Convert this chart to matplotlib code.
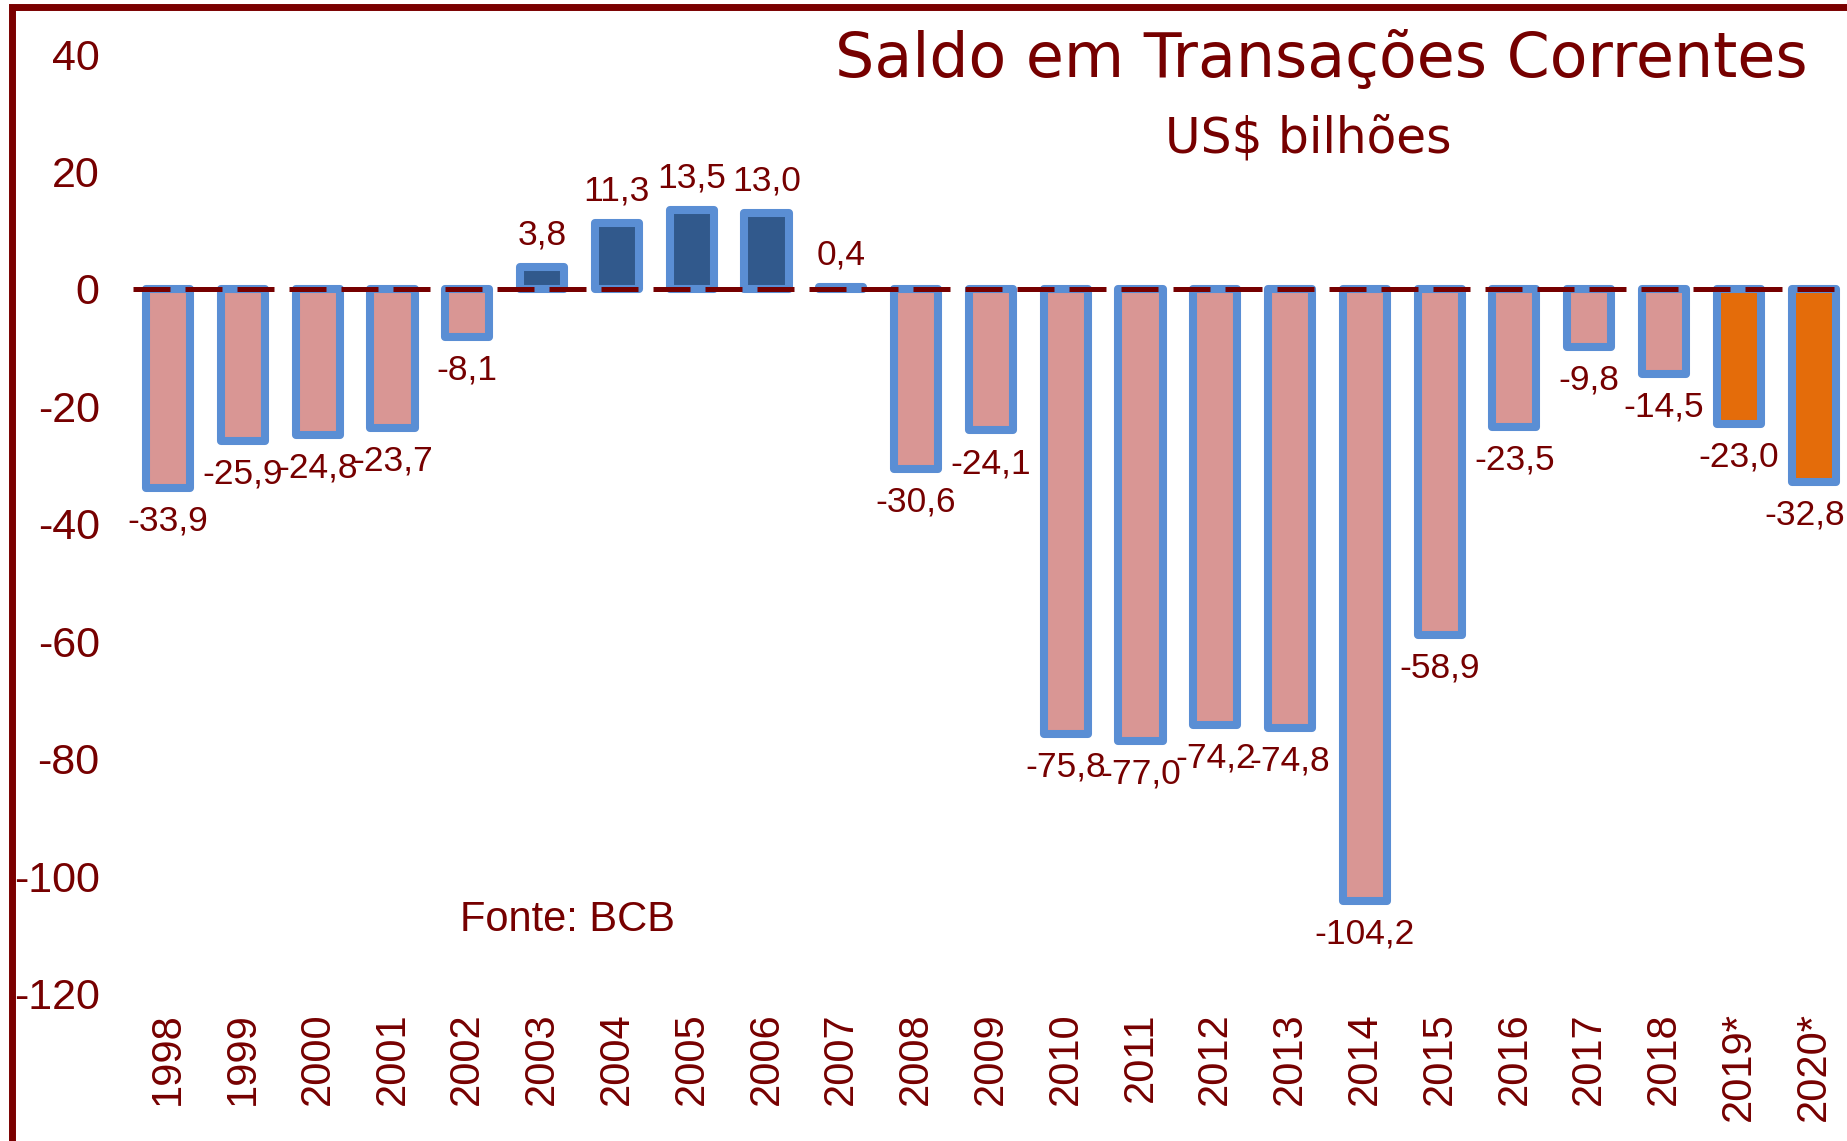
import matplotlib.pyplot as plt
from matplotlib.patches import Rectangle

# the data
years = ['1998', '1999', '2000', '2001', '2002', '2003', '2004', '2005',
         '2006', '2007', '2008', '2009', '2010', '2011', '2012', '2013',
         '2014', '2015', '2016', '2017', '2018', '2019*', '2020*']
saldo = [-33.9, -25.9, -24.8, -23.7, -8.1, 3.8, 11.3, 13.5,
         13.0, 0.4, -30.6, -24.1, -75.8, -77.0, -74.2, -74.8,
         -104.2, -58.9, -23.5, -9.8, -14.5, -23.0, -32.8]
y_ticks = [40, 20, 0, -20, -40, -60, -80, -100, -120]

title = 'Saldo em Transações Correntes'
subtitle = 'US$ bilhões'
source = 'Fonte: BCB'

DARK_RED = '#760000'
PINK = '#d99694'
NAVY = '#31598c'
ORANGE = '#e46c0a'
EDGE = '#5a8ed4'

W, H = 1847, 1141
DPI = 100


def bar_color(label, value):
    if label.endswith('*'):
        return ORANGE  # projections
    if value > 0:
        return NAVY
    return PINK


def fmt(v):
    return f'{v:.1f}'.replace('.', ',')


def main():
    plt.rcParams['font.family'] = ['Liberation Sans', 'DejaVu Sans']
    fig = plt.figure(figsize=(W / DPI, H / DPI), dpi=DPI)
    fig.patch.set_facecolor('white')

    # axes in pixel terms: left 133, top 20, bottom 1000
    ax = fig.add_axes([133 / W, 1 - 1000 / H, 1 - 133 / W, (1000 - 20) / H])
    ax.set_facecolor('none')
    px_per_unit = 117.4 / 20
    ax.set_ylim(-(1000 - 289) / px_per_unit, (289 - 20) / px_per_unit)
    ax.set_xlim(-0.47, (W - 168) / 74.8)

    x = range(len(years))
    colors = [bar_color(lbl, v) for lbl, v in zip(years, saldo)]
    ax.bar(x, saldo, width=0.59, color=colors, edgecolor=EDGE,
           linewidth=5.8, joinstyle='round', zorder=2)

    # dashed zero line on top of the bars
    ax.axhline(0, color=DARK_RED, linewidth=3.6, dashes=(7.4, 3.0),
               zorder=3)

    labels = []
    for i, v in enumerate(saldo):
        off = 23 if v >= 0 else -24
        labels.append(ax.annotate(fmt(v), (i, v), xytext=(0, off),
                                  textcoords='offset points', ha='center',
                                  va='center', fontsize=25.5,
                                  color=DARK_RED, zorder=4))

    for s in ax.spines.values():
        s.set_visible(False)
    ax.set_yticks(y_ticks)
    ax.set_yticklabels([str(t) for t in y_ticks])
    ax.set_xticks(list(x))
    ax.set_xticklabels(years, rotation=90)
    ax.tick_params(axis='y', length=0, pad=24, labelsize=31,
                   labelcolor=DARK_RED)
    ax.tick_params(axis='x', length=0, pad=9, labelsize=30,
                   labelcolor=DARK_RED)

    # keep the value labels inside the picture (the last one hits the edge)
    renderer = fig.canvas.get_renderer()
    for t in labels:
        bb = t.get_window_extent(renderer)
        if bb.x1 > W - 2:
            shift = ((W - 2) - bb.x1) * 72 / DPI
            t.xyann = (t.xyann[0] + shift, t.xyann[1])

    fig.text(1808 / W, 1 - 77 / H, title, ha='right', va='baseline',
             fontsize=44.5, color=DARK_RED, family='DejaVu Sans')
    fig.text(1308 / W, 1 - 153 / H, subtitle, ha='center', va='baseline',
             fontsize=35, color=DARK_RED, family='DejaVu Sans')
    fig.text(460 / W, 1 - 920 / H, source, ha='left', va='center',
             fontsize=30, color=DARK_RED)

    # dark red frame around the picture (cut at right and bottom)
    fig.patches.append(Rectangle((11.5 / W, -0.05), 1.2, 1.05 - 6.5 / H,
                                 transform=fig.transFigure, fill=False,
                                 edgecolor='#7a0000', linewidth=5.0,
                                 zorder=10))

    fig.savefig('out.png', dpi=DPI)


if __name__ == '__main__':
    main()
